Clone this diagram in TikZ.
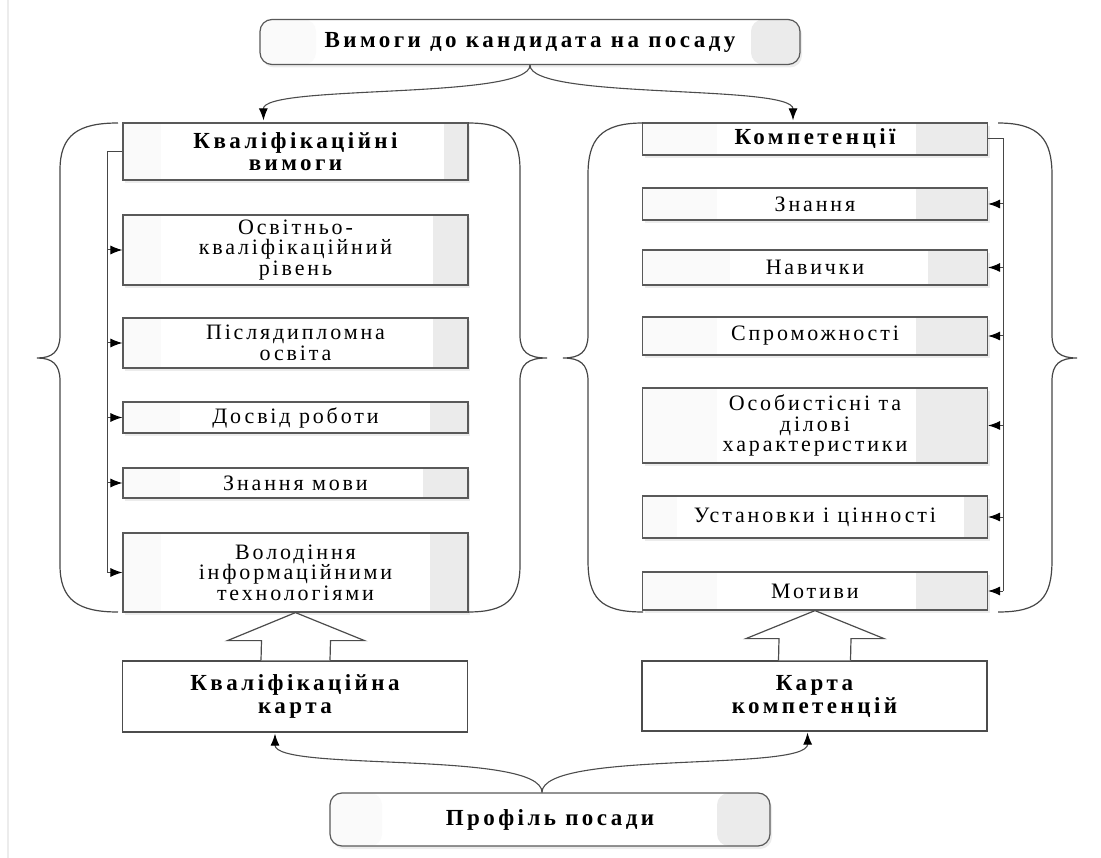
\documentclass[tikz,border=0pt]{standalone}
\usepackage{fontspec}
\setmainfont{Liberation Serif}
\newfontfamily\regfont{Liberation Serif}[LetterSpace=13]
\newfontfamily\bldfont{Liberation Serif}[LetterSpace=15]
\usetikzlibrary{arrows.meta,shadows,calc}
\tikzset{
  box/.style={draw=gray!70!black, line width=1.2pt, fill=white, inner sep=0pt, align=center,
    drop shadow={opacity=0.15, shadow xshift=2pt, shadow yshift=-3pt}},
  bands/.style 2 args={path picture={
    \fill[gray!4] (path picture bounding box.south west) rectangle ([xshift=#1]path picture bounding box.north west);
    \fill[gray!16] ([xshift=-#2]path picture bounding box.south east) rectangle (path picture bounding box.north east);}},
  itembox/.style={box, minimum width=345pt, font=\regfont\fontsize{22}{20.5}\selectfont},
  headbox/.style={itembox, font=\bldfont\bfseries\fontsize{23}{22}\selectfont},
  endbox/.style={box, rounded corners=12pt, font=\bldfont\bfseries\fontsize{23}{22}\selectfont},
  cardbox/.style={draw=gray!60!black, line width=1.2pt, fill=white, inner sep=0pt, align=center,
    minimum width=345pt, font=\bldfont\bfseries\fontsize{23}{23}\selectfont},
  brace/.style={draw=gray!55!black, line width=1.2pt},
  bus/.style={draw=gray!55!black, line width=1pt},
  busarrow/.style={bus, -{Latex[length=12pt,width=9pt,black]}},
  curve/.style={draw=gray!60!black, line width=1.1pt, -{Latex[length=12pt,width=9pt,black]}},
  hollow/.style={draw=gray!60!black, line width=1.2pt, fill=white, line join=miter}
}
\begin{document}
\begin{tikzpicture}[x=1pt,y=-1pt]
\useasboundingbox (0,0) rectangle (1101,858);
\draw[gray!15, line width=2pt] (8,0) -- (8,858);

% top and bottom
\node[endbox, minimum width=540pt, minimum height=45pt, bands={56pt}{49pt}] (req) at (530,42) {Вимоги до кандидата на посаду};
\node[endbox, minimum width=440pt, minimum height=53pt, bands={52pt}{53pt}] (prof) at (550,819.5) {Профіль посади};

% left column
\node[headbox, minimum height=57pt, bands={38pt}{24pt}] (qreq) at (295.5,151.5) {Кваліфікаційні\\вимоги};
\node[itembox, minimum height=70pt, bands={38pt}{35pt}] (edu) at (295.5,250) {Освітньо-\\кваліфікаційний\\рівень};
\node[itembox, minimum height=50pt, bands={38pt}{35pt}] (post) at (295.5,343) {Післядипломна\\освіта};
\node[itembox, minimum height=31pt, bands={57pt}{38pt}] (exp) at (295.5,417.5) {Досвід роботи};
\node[itembox, minimum height=30pt, bands={57pt}{45pt}] (lang) at (295.5,483) {Знання мови};
\node[itembox, minimum height=79pt, bands={38pt}{38pt}] (it) at (295.5,572.5) {Володіння\\інформаційними\\технологіями};

% right column
\node[headbox, minimum height=32pt, bands={74pt}{72pt}] (comp) at (815,139) {Компетенції};
\node[itembox, minimum height=32pt, bands={74pt}{72pt}] (know) at (815,204) {Знання};
\node[itembox, minimum height=35pt, bands={87pt}{60pt}] (skill) at (815,267.5) {Навички};
\node[itembox, minimum height=38pt, bands={74pt}{72pt}] (abil) at (815,336) {Спроможності};
\node[itembox, minimum height=75pt, bands={74pt}{72pt}] (pers) at (815,425.5) {Особистісні та\\ділові\\характеристики};
\node[itembox, minimum height=42pt, bands={34pt}{24pt}] (att) at (815,517) {Установки і цінності};
\node[itembox, minimum height=38pt, bands={74pt}{72pt}] (mot) at (815,591) {Мотиви};

% cards
\node[cardbox, minimum height=71pt] (qcard) at (295,696.5) {Кваліфікаційна\\карта};
\node[cardbox, minimum height=70pt] (ccard) at (814.5,696) {Карта\\компетенцій};

% curved arrows
\draw[curve] (req.south) .. controls (530,100) and (263,84) .. ([xshift=-32pt,yshift=2pt]qreq.north);
\draw[curve] (req.south) .. controls (530,100) and (793,84) .. ([xshift=-22pt,yshift=2pt]comp.north);
\draw[curve] ([xshift=-8pt]prof.north) .. controls (542,750) and (275,772) .. ([xshift=-20pt,yshift=-1pt]qcard.south);
\draw[curve] ([xshift=-8pt]prof.north) .. controls (542,750) and (808,772) .. ([xshift=-7pt,yshift=-1pt]ccard.south);

% hollow arrows
\draw[hollow] ([xshift=-34pt]qcard.north) -- ([xshift=-34pt,yshift=-28pt]it.south) -- ([xshift=-68pt,yshift=-28pt]it.south)
  -- (it.south) -- ([xshift=69pt,yshift=-28pt]it.south) -- ([xshift=35pt,yshift=-28pt]it.south) -- ([xshift=35pt]qcard.north);
\draw[hollow] ([xshift=-36pt]ccard.north) -- ([xshift=-36pt,yshift=-28pt]mot.south) -- ([xshift=-69pt,yshift=-28pt]mot.south)
  -- (mot.south) -- ([xshift=69pt,yshift=-28pt]mot.south) -- ([xshift=36pt,yshift=-28pt]mot.south) -- ([xshift=36pt]ccard.north);

% buses
\coordinate (lbus) at (107,573);
\coordinate (rbus) at (1003,591);
\draw[bus] (qreq.west) -| (lbus);
\foreach \n in {edu,post,exp,lang,it}
  \draw[busarrow] (lbus |- \n.west) -- (\n.west);
\draw[bus] (comp.east) -| (rbus);
\foreach \n in {know,skill,abil,pers,att,mot}
  \draw[busarrow] (rbus |- \n.east) -- (\n.east);

% braces
\draw[brace] (118,123) .. controls (78,123) and (60,135) .. (60,170) -- (60,335)
  .. controls (60,352) and (52,358) .. (37,358) .. controls (52,358) and (60,364) .. (60,381)
  -- (60,565) .. controls (60,600) and (78,612) .. (118,612);
\draw[brace] (468,123) .. controls (505,123) and (520,135) .. (520,170) -- (520,335)
  .. controls (520,352) and (528,358) .. (547,358) .. controls (528,358) and (520,364) .. (520,381)
  -- (520,565) .. controls (520,600) and (505,612) .. (468,612);
\draw[brace] (643,123) .. controls (600,123) and (588,140) .. (588,175) -- (588,335)
  .. controls (588,352) and (580,358) .. (563,358) .. controls (580,358) and (588,364) .. (588,381)
  -- (588,560) .. controls (588,598) and (600,612) .. (643,612);
\draw[brace] (998,123) .. controls (1040,123) and (1052,140) .. (1052,175) -- (1052,335)
  .. controls (1052,352) and (1060,358) .. (1077,358) .. controls (1060,358) and (1052,364) .. (1052,381)
  -- (1052,560) .. controls (1052,598) and (1040,612) .. (998,612);
\end{tikzpicture}
\end{document}
